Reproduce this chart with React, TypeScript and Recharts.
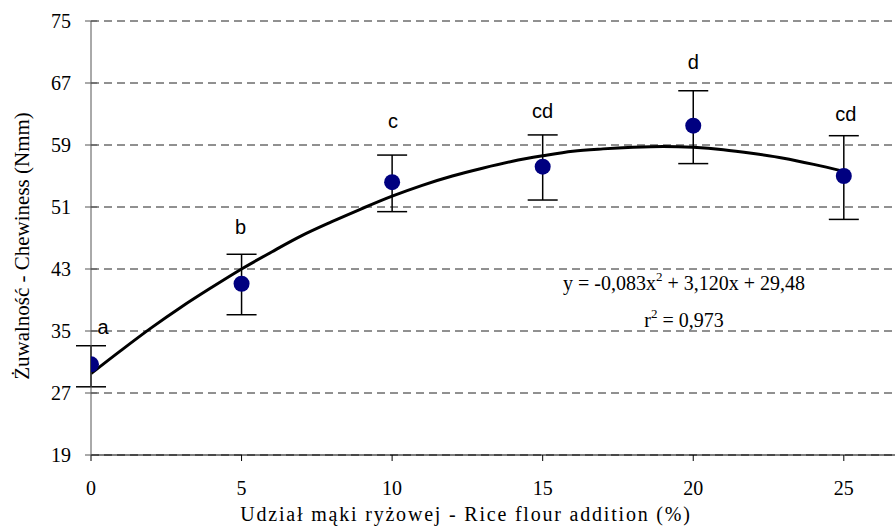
import React from "react";
import { ComposedChart, Line, Scatter, ErrorBar, XAxis, YAxis, CartesianGrid, LabelList, Customized } from "recharts";

// mean chewiness per rice flour share, with error bar ends
const riceShare = [0, 5, 10, 15, 20, 25];
const chewMean = [30.7, 41.1, 54.2, 56.2, 61.5, 55.0];
const chewLow = [27.8, 37.1, 50.4, 51.9, 56.6, 49.4];
const chewHigh = [33.1, 44.9, 57.7, 60.3, 66.0, 60.2];
const groupLetters = ["a", "b", "c", "cd", "d", "cd"];

// fitted trend line at every 1 %
const fitX = [0, 1, 2, 3, 4, 5, 6, 7, 8, 9, 10, 11, 12, 13, 14, 15, 16, 17, 18, 19, 20, 21, 22, 23, 24, 25];
const fitY = [29.5, 32.5, 35.4, 38.1, 40.6, 43.0, 45.2, 47.3, 49.1, 50.8, 52.4, 53.8, 55.0, 56.0, 56.9, 57.6, 58.2, 58.5, 58.7, 58.8, 58.7, 58.4, 57.9, 57.3, 56.5, 55.6];

const xTicks = [0, 5, 10, 15, 20, 25];
const yTicks = [19, 27, 35, 43, 51, 59, 67, 75];

const points = riceShare.map((x, i) => ({
  x,
  y: chewMean[i],
  err: [chewMean[i] - chewLow[i], chewHigh[i] - chewMean[i]],
  letter: groupLetters[i],
}));
const curve = fitX.map((x, i) => ({ x, fit: fitY[i] }));

// hand-placed letter offsets (px) from each point
const letterOffset = [
  [12, -37],
  [-1, -57],
  [1, -61],
  [0, -56],
  [0, -64],
  [2, -62],
];

const serif = "'Liberation Serif', 'Times New Roman', serif";
const sans = "'Liberation Sans', Arial, sans-serif";

function LetterLabel(props: any) {
  const { x, y, width, height, index, value } = props;
  const cx = x + (width || 0) / 2;
  const cy = y + (height || 0) / 2;
  const [dx, dy] = letterOffset[index] || [0, -30];
  return (
    <text x={cx + dx} y={cy + dy} textAnchor="middle" dominantBaseline="central" fontFamily={sans} fontSize={20} fill="#000">
      {value}
    </text>
  );
}

// y ticks cross the axis, like in the original
function YTick(props: any) {
  const { x, y, payload } = props;
  const axisX = x + 20;
  return (
    <g>
      <line x1={axisX - 6} x2={axisX + 6} y1={y} y2={y} stroke="#555" />
      <text x={x} y={y} textAnchor="end" dominantBaseline="central" fontFamily={serif} fontSize={20} fill="#000">
        {payload.value}
      </text>
    </g>
  );
}

function Annotations() {
  return (
    <g fontFamily={serif} fill="#000">
      <text x={684} y={290} textAnchor="middle" fontSize={20}>
        y = -0,083x<tspan dy={-9} fontSize={13}>2</tspan>
        <tspan dy={9}> + 3,120x + 29,48</tspan>
      </text>
      <text x={684} y={327} textAnchor="middle" fontSize={20}>
        r<tspan dy={-9} fontSize={13}>2</tspan>
        <tspan dy={9}> = 0,973</tspan>
      </text>
      <text x={466} y={521} textAnchor="middle" fontSize={20} letterSpacing={1.8}>
        Udział mąki ryżowej - Rice flour addition  (%)
      </text>
      <text x={29} y={246} textAnchor="middle" fontSize={21} transform="rotate(-90 29 246)">
        Żuwalność - Chewiness (Nmm)
      </text>
    </g>
  );
}

export default function App() {
  return (
    <div style={{ position: "absolute", left: 0, top: 0, width: 895, height: 526, background: "#fff" }}>
      <ComposedChart width={895} height={526} margin={{ top: 21, right: 0, left: 0, bottom: 0 }}>
        <CartesianGrid vertical={false} horizontal stroke="#222" strokeDasharray="8 5" />
        <XAxis
          dataKey="x"
          type="number"
          domain={[0, 26.7]}
          ticks={xTicks}
          allowDataOverflow
          height={71}
          tickSize={6}
          tickMargin={20}
          stroke="#000"
          tick={{ fontFamily: serif, fontSize: 20, fill: "#000" }}
        />
        <YAxis
          type="number"
          domain={[19, 75]}
          ticks={yTicks}
          width={91}
          tickSize={6}
          tickMargin={14}
          tickLine={false}
          stroke="#555"
          tick={<YTick />}
        />
        <Line data={curve} dataKey="fit" type="monotone" dot={false} stroke="#000" strokeWidth={3} isAnimationActive={false} />
        <Scatter data={points} dataKey="y" fill="#000080" isAnimationActive={false} shape={(p: any) => <circle cx={p.cx} cy={p.cy} r={8} fill="#000080" />}>
          <ErrorBar dataKey="err" direction="y" width={15} stroke="#000" strokeWidth={1.5} />
          <LabelList dataKey="letter" content={LetterLabel} />
        </Scatter>
        <Customized component={Annotations} />
      </ComposedChart>
    </div>
  );
}
